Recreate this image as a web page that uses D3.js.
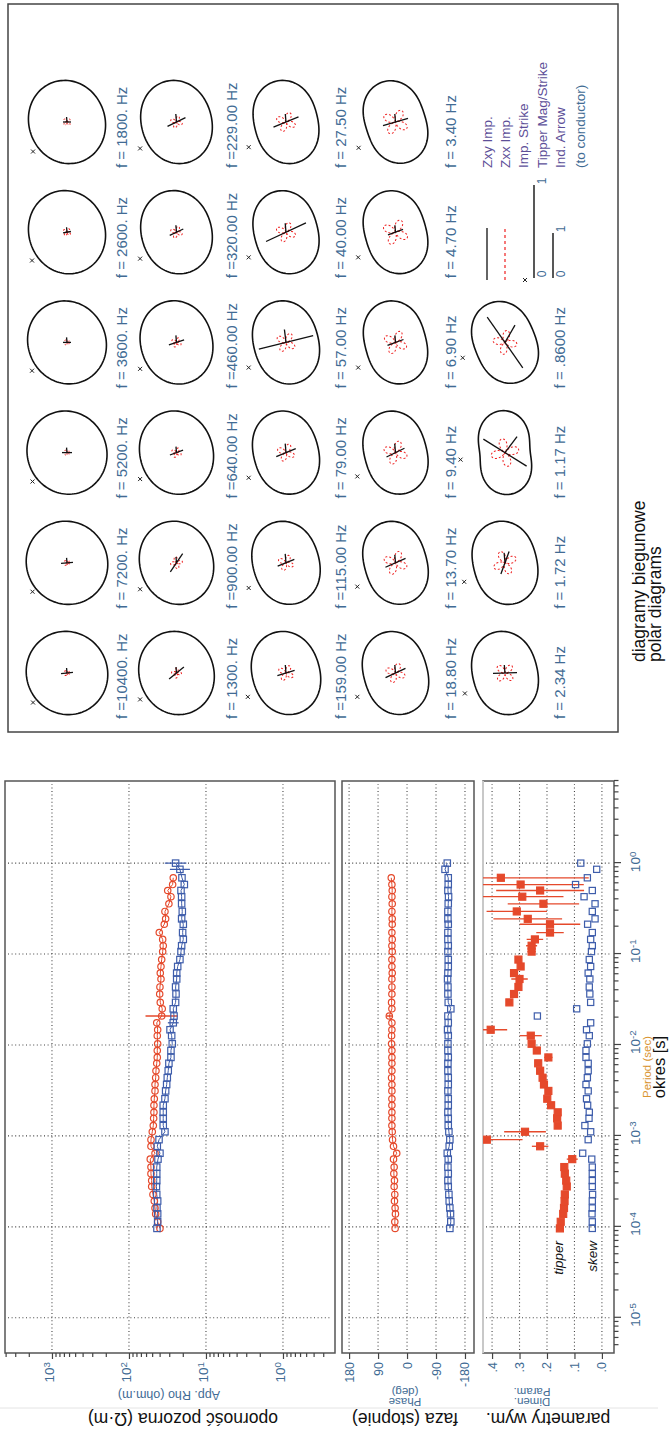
<!DOCTYPE html>
<html>
<head>
<meta charset="utf-8">
<script src="https://cdn.jsdelivr.net/npm/d3@7"></script>
<style>
  body { margin: 0; background: #fff; }
  svg { display: block; }
  text { font-family: "Liberation Sans", Arial, sans-serif; }
</style>
</head>
<body>
<div id="chart"></div>
<script>
// sounding frequencies (Hz), shortest period first
var freqs = [10400, 8800, 7200, 6200, 5200, 4400, 3600, 3100, 2600, 2200,
  1800, 1550, 1300, 1100, 900, 770, 640, 550, 460, 390,
  320, 272, 229, 192, 159, 137, 115, 97, 79, 68,
  57, 48, 40, 34, 27.5, 23, 18.8, 16.2, 13.7, 11.5,
  9.4, 8.1, 6.9, 5.8, 4.7, 4.1, 3.4, 2.8, 2.34, 2.0,
  1.72, 1.45, 1.17, 1.0];

// apparent resistivity (ohm.m)
var rhoXY = [39.6, 42.4, 45.0, 45.9, 46.9, 48.8, 50.7, 50.7, 51.8, 51.8,
  52.9, 45.9, 51.8, 51.8, 49.8, 48.3, 47.8, 47.4, 47.4, 46.9,
  45.9, 45.9, 45.0, 44.6, 43.6, 42.9, 42.9, 42.4, 42.9, 42.4,
  43.6, 37.6, 37.0, 39.2, 39.9, 39.6, 38.4, 39.2, 38.4, 37.6,
  36.5, 35.9, 36.5, 40.4, 34.8, 33.4, 34.1, 30.3, 28.5, 31.4,
  27.1, 26.6, null, null];
var rhoYX = [43.3, 42.4, 42.4, 43.3, 42.4, 43.6, 44.0, 43.6, 43.6, 43.6,
  42.0, 39.6, 42.9, 40.7, 34.1, 35.9, 35.9, 35.9, 35.9, 34.1,
  33.4, 32.4, 31.8, 30.9, 30.3, 28.5, 28.5, 27.4, 27.9, 29.3,
  26.6, 26.0, 26.6, 24.8, 24.5, 24.8, 24.0, 24.0, 23.3, 21.8,
  21.1, 20.7, 19.7, 20.1, 19.7, 20.7, 20.3, 20.7, 20.7, 21.1,
  19.1, 20.5, 21.8, 24.8];
// error half-width in decades
var rhoXYErr = [0, 0, 0, 0, 0, 0, 0, 0, 0, 0,  0, 0, 0, 0, 0, 0, 0, 0, 0, 0,
  0, 0, 0, 0, 0, 0, 0, 0, 0, 0,  0, 0.21, 0, 0, 0, 0, 0, 0, 0, 0,
  0, 0, 0, 0, 0, 0, 0, 0, 0, 0,  0, 0, 0, 0];
var rhoYXErr = [0, 0, 0, 0, 0, 0, 0, 0, 0, 0,  0, 0, 0, 0, 0, 0, 0, 0, 0, 0,
  0, 0, 0, 0, 0, 0, 0, 0, 0, 0,  0.07, 0, 0, 0, 0, 0, 0, 0, 0, 0,
  0, 0, 0, 0, 0, 0, 0, 0, 0, 0,  0, 0, 0.13, 0.14];

// phase (deg)
var phaseXY = [37, 38, 36, 37, 39, 38, 40, 39, 41, 40,
  42, 32, 42, 45, 46, 47, 47, 47, 47, 47,
  47, 47, 48, 47, 47, 47, 47, 48, 48, 47,
  47, 55, 47, 48, 47, 47, 47, 46, 47, 47,
  46, 47, 46, 47, 46, 46, 47, 46, 47, 46,
  47, 49, null, null];
var phaseXYErr = [0, 0, 0, 0, 0, 0, 0, 0, 0, 0,  0, 0, 0, 0, 0, 0, 0, 0, 0, 0,
  0, 0, 0, 0, 0, 0, 0, 0, 0, 0,  0, 9, 0, 0, 0, 0, 0, 0, 0, 0,
  0, 0, 0, 0, 0, 0, 0, 0, 0, 0,  0, 0, 0, 0];
var phaseYX = [-133, -136, -135, -133, -131, -130, -128, -127, -128, -127,
  -128, -125, -131, -133, -130, -128, -128, -127, -128, -128,
  -127, -128, -128, -127, -127, -128, -127, -127, -128, -126,
  -128, -127, -136, -128, -127, -127, -126, -127, -128, -128,
  -127, -128, -127, -127, -128, -127, -127, -128, -129, -127,
  -128, -128, -118, -125];

// dimensionality parameters
var tipper = [0.153, 0.150, 0.141, 0.138, 0.136, 0.135, 0.128, 0.130, 0.135, 0.137,
  0.108, null, 0.225, 0.419, 0.280, 0.161, 0.163, 0.161, 0.185, 0.199,
  0.195, 0.211, 0.216, 0.225, 0.232, 0.195, 0.237, 0.256, 0.259, 0.405,
  null, null, null, 0.337, 0.320, 0.304, 0.300, 0.320, 0.296, 0.304,
  0.256, 0.256, 0.244, 0.189, 0.189, 0.270, 0.310, 0.213, 0.290, 0.225,
  0.296, 0.368, null, null];
var tipperErr = [0, 0, 0, 0, 0, 0, 0, 0, 0, 0,
  0.02, 0, 0.03, 0.13, 0.076, 0, 0, 0, 0, 0,
  0, 0, 0, 0, 0, 0.015, 0, 0.01, 0.04, 0.06,
  0, 0, 0, 0.01, 0.01, 0.01, 0.03, 0.01, 0.01, 0.01,
  0.015, 0.02, 0.03, 0.05, 0.11, 0.125, 0.11, 0.13, 0.15, 0.16,
  0.23, 0.32, 0, 0];
var skew = [0.035, 0.035, 0.036, 0.035, 0.035, 0.034, 0.035, 0.035, 0.035, 0.035,
  0.037, 0.070, null, 0.050, 0.041, 0.062, 0.047, 0.046, 0.052, 0.056,
  0.050, 0.058, 0.053, 0.050, 0.050, 0.058, 0.058, 0.053, 0.046, 0.056,
  0.041, 0.235, 0.092, 0.041, 0.044, 0.046, 0.044, 0.050, 0.041, 0.046,
  0.038, 0.035, 0.041, 0.035, 0.052, 0.025, 0.035, 0.025, 0.065, 0.035,
  0.096, 0.053, 0.019, 0.077];

var periodTicks = [1e-5, 1e-4, 1e-3, 1e-2, 1e-1, 1];
var rhoTicks = [1, 10, 100, 1000];
var phaseTicks = [180, 90, 0, -90, -180];
var dimTicks = [0.4, 0.3, 0.2, 0.1, 0];

// polar diagrams, row by row
var polarLabels = ["f =10400. Hz", "f = 7200. Hz", "f = 5200. Hz", "f = 3600. Hz", "f = 2600. Hz", "f = 1800. Hz",
  "f = 1300. Hz", "f =900.00 Hz", "f =640.00 Hz", "f =460.00 Hz", "f =320.00 Hz", "f =229.00 Hz",
  "f =159.00 Hz", "f =115.00 Hz", "f = 79.00 Hz", "f = 57.00 Hz", "f = 40.00 Hz", "f = 27.50 Hz",
  "f = 18.80 Hz", "f = 13.70 Hz", "f = 9.40 Hz", "f = 6.90 Hz", "f = 4.70 Hz", "f = 3.40 Hz",
  "f = 2.34 Hz", "f = 1.72 Hz", "f = 1.17 Hz", "f = .8600 Hz"];
var polarK = [0.02, 0.02, 0.03, 0.04, 0.05, 0.05, 0.06, 0.07, 0.07, 0.08, 0.09, 0.09,
  0.11, 0.12, 0.13, 0.13, 0.14, 0.14, 0.14, 0.15, 0.15, 0.16, 0.16, 0.17,
  0.13, 0.14, 0.25, 0.16];
var polarAxis = [-30, -30, -25, -25, -20, -20, -18, -18, -16, -16, -16, -16,
  -16, -16, -15, -15, -15, -14, -16, -16, -15, -15, -16, -18,
  -14, -14, -5, -22];
var polarZxx = [3, 3, 3, 3, 4, 4, 5, 6, 5, 5, 6, 6, 8, 8, 9, 10, 10, 10, 10, 12, 12, 12, 13, 13, 10, 12, 14, 12];
var strikeLen = [12, 12, 10, 8, 8, 8, 19, 22, 14, 16, 15, 20, 18, 18, 21, 56, 44, 27, 22, 22, 20, 17, 16, 26, 24, 24, 51, 62];
var strikeAng = [85, 85, 90, 90, 80, 90, 51, 34, 70, 72, 65, 64, 73, 68, 68, 76, 65, 68, 65, 66, 64, 70, 70, 74, 88, 20, 122, 145];
var arrowLen = [5, 5, 5, 5, 5, 5, 6, 6, 6, 7, 7, 8, 8, 9, 9, 13, 9, 8, 8, 8, 9, 7, 7, 8, 8, 10, 20, 20];
var arrowAng = [-5, -5, -5, -5, -5, -5, -5, -5, -5, -5, -5, -5, -5, -5, -5, -7, -5, -5, -5, -5, -5, -5, -5, -5, -5, -5, 37, 30];
var crossAng = [-131, -130, -130, -129, -129, -131, -126, -126, -126, -126, -126, -126,
  -122, -124, -124, -124, -124, -124, -122, -122, -122, -124, -124, -125,
  -117, -115, -99, -110];

var legendLabels = ["Zxy Imp.", "Zxx Imp.", "Imp. Strike", "Tipper Mag/Strike", "Ind. Arrow", "(to conductor)"];

var W = 669, H = 1433;
var red = "#e5492b", blue = "#3e5dab", txtCol = "#416b94", gridCol = "#444";

var svg = d3.select("#chart").append("svg").attr("width", W).attr("height", H);
// the figure is a landscape page turned a quarter turn
var page = svg.append("g").attr("transform", "translate(0," + H + ") rotate(-90)");

var x = d3.scaleLog().domain([4.1e-6, 8]).range([80, 652]);
var yRho = d3.scaleLog().domain([0.211, 4074]).range([335, 5]);
var yPh = d3.scaleLinear().domain([-208, 202]).range([474, 342]);
var yDim = d3.scaleLinear().domain([-0.044, 0.433]).range([614, 483]);

var data = freqs.map(function(f, i) {
  return {T: 1 / f, rxy: rhoXY[i], ryx: rhoYX[i], exy: rhoXYErr[i], eyx: rhoYXErr[i],
    pxy: phaseXY[i], eph: phaseXYErr[i], pyx: phaseYX[i], tip: tipper[i], etip: tipperErr[i], skew: skew[i]};
});

function pow10(sel) {
  sel.text("10").append("tspan").attr("dy", "-0.45em").attr("font-size", "0.72em")
    .text(function(d) { return Math.round(Math.log10(d)); });
}

var panels = [
  {id: "rho", y: yRho, ticks: rhoTicks},
  {id: "ph", y: yPh, ticks: phaseTicks},
  {id: "dim", y: yDim, ticks: dimTicks}
];

panels.forEach(function(p) {
  var r = p.y.range();
  var g = page.append("g");
  page.append("clipPath").attr("id", "clip-" + p.id).append("rect")
    .attr("x", 80).attr("y", r[1]).attr("width", 572).attr("height", r[0] - r[1]);

  g.selectAll("line.vg").data(periodTicks).join("line").attr("class", "vg")
    .attr("x1", function(d) { return x(d); }).attr("x2", function(d) { return x(d); })
    .attr("y1", r[1] + 3).attr("y2", r[0] - 3);
  g.selectAll("line.hg").data(p.ticks).join("line").attr("class", "hg")
    .attr("x1", 83).attr("x2", 649)
    .attr("y1", function(d) { return p.y(d); }).attr("y2", function(d) { return p.y(d); });
  g.selectAll("line").attr("stroke", gridCol).attr("stroke-width", 1.1).attr("stroke-dasharray", "1,2.6");

  g.append("rect").attr("x", 80).attr("y", r[1]).attr("width", 572).attr("height", r[0] - r[1])
    .attr("fill", "none").attr("stroke", "#555").attr("stroke-width", 1.5);
  if (p.id == "dim") {
    g.append("line").attr("x1", 80).attr("x2", 652).attr("y1", r[1]).attr("y2", r[1])
      .attr("stroke", "#c8c8c8").attr("stroke-width", 2);
  }

  var ax = g.append("g").attr("transform", "translate(80,0)")
    .call(d3.axisLeft(p.y).tickValues(p.ticks).tickSize(6).tickFormat(""));
  ax.select(".domain").remove();
  ax.selectAll("line").attr("stroke", "#444");
});

// minor ticks on the resistivity axis
var rhoMinor = yRho.ticks().filter(function(d) { return Math.abs(Math.log10(d) - Math.round(Math.log10(d))) > 1e-6; });
var axm = page.append("g").attr("transform", "translate(80,0)")
  .call(d3.axisLeft(yRho).tickValues(rhoMinor).tickSize(4).tickFormat(""));
axm.select(".domain").remove();

// period axis
var pax = page.append("g").attr("transform", "translate(0,614)")
  .call(d3.axisBottom(x).tickValues(periodTicks).tickSize(7).tickFormat(""));
pax.select(".domain").remove();
var pMinor = x.ticks().filter(function(d) { return Math.abs(Math.log10(d) - Math.round(Math.log10(d))) > 1e-6; });
var paxm = page.append("g").attr("transform", "translate(0,614)")
  .call(d3.axisBottom(x).tickValues(pMinor).tickSize(4.5).tickFormat(""));
paxm.select(".domain").remove();
page.selectAll(".tick line").attr("stroke", "#444").attr("stroke-width", 1.2);

// tick labels
page.append("g").selectAll("text").data(rhoTicks).join("text")
  .attr("x", 71).attr("y", function(d) { return yRho(d) + 2; })
  .attr("text-anchor", "end").attr("font-size", 13.5).attr("fill", txtCol).call(pow10);
page.append("g").selectAll("text").data(phaseTicks).join("text")
  .attr("x", 71).attr("y", function(d) { return yPh(d) + 4.5; })
  .attr("text-anchor", "end").attr("font-size", 12.5).attr("fill", txtCol).text(function(d) { return d; });
page.append("g").selectAll("text").data(dimTicks).join("text")
  .attr("x", 71).attr("y", function(d) { return yDim(d) + 4.5; })
  .attr("text-anchor", "end").attr("font-size", 12.5).attr("fill", txtCol)
  .text(function(d) { return d3.format(".1f")(d).replace("0.", "."); });
page.append("g").selectAll("text").data(periodTicks).join("text")
  .attr("x", function(d) { return x(d) - 9; }).attr("y", 640)
  .attr("font-size", 13.5).attr("fill", txtCol).call(pow10);

// axis titles
function vtext(tx, ty, s, size, col) {
  return page.append("text").attr("transform", "translate(" + tx + "," + ty + ") rotate(-90)")
    .attr("text-anchor", "middle").attr("dy", "0.35em").attr("font-size", size).attr("fill", col).text(s);
}
vtext(38, 169, "App. Rho (ohm.m)", 12.5, txtCol);
vtext(31, 405, "Phase", 11.5, txtCol);
vtext(41, 405, "(deg)", 11.5, txtCol);
vtext(31, 532, "Dimen.", 11.5, txtCol);
vtext(41, 532, "Param.", 11.5, txtCol);
vtext(14, 183, "oporność pozorna (Ω·m)", 17.5, "#111");
vtext(14, 405, "faza (stopnie)", 17.5, "#111");
vtext(14, 548, "parametry wym.", 17.5, "#111");
page.append("line").attr("x1", 25).attr("x2", 25).attr("y1", 0).attr("y2", 658)
  .attr("stroke", "#e4e4e4").attr("stroke-width", 1);
page.append("text").attr("x", 366).attr("y", 647).attr("dy", "0.35em").attr("text-anchor", "middle")
  .attr("font-size", 11.5).attr("fill", "#d99430").text("Period (sec)");
page.append("text").attr("x", 366).attr("y", 659).attr("dy", "0.35em").attr("text-anchor", "middle")
  .attr("font-size", 16.5).attr("fill", "#111").text("okres [s]");

// resistivity curves
var gR = page.append("g").attr("clip-path", "url(#clip-rho)");
function errBars(g, key, ekey, scale, col, logErr) {
  g.selectAll(null).data(data.filter(function(d) { return d[key] != null && d[ekey] > 0; })).join("line")
    .attr("x1", function(d) { return x(d.T); }).attr("x2", function(d) { return x(d.T); })
    .attr("y1", function(d) { return scale(logErr ? d[key] / Math.pow(10, d[ekey]) : d[key] - d[ekey]); })
    .attr("y2", function(d) { return scale(logErr ? d[key] * Math.pow(10, d[ekey]) : d[key] + d[ekey]); })
    .attr("stroke", col).attr("stroke-width", 1.3);
}
function curve(g, key, scale, col) {
  g.append("path").datum(data)
    .attr("d", d3.line().defined(function(d) { return d[key] != null; })
      .x(function(d) { return x(d.T); }).y(function(d) { return scale(d[key]); }))
    .attr("fill", "none").attr("stroke", col).attr("stroke-width", 1);
}
function circles(g, key, scale, col) {
  g.selectAll(null).data(data.filter(function(d) { return d[key] != null; })).join("circle")
    .attr("cx", function(d) { return x(d.T); }).attr("cy", function(d) { return scale(d[key]); })
    .attr("r", 3.2).attr("fill", "none").attr("stroke", col).attr("stroke-width", 1.2);
}
function squares(g, key, scale, col, s, filled) {
  g.selectAll(null).data(data.filter(function(d) { return d[key] != null; })).join("rect")
    .attr("x", function(d) { return x(d.T) - s / 2; }).attr("y", function(d) { return scale(d[key]) - s / 2; })
    .attr("width", s).attr("height", s)
    .attr("fill", filled ? col : "none").attr("stroke", col).attr("stroke-width", 1.2);
}
errBars(gR, "rxy", "exy", yRho, red, true);
errBars(gR, "ryx", "eyx", yRho, blue, true);
curve(gR, "rxy", yRho, red);
curve(gR, "ryx", yRho, blue);
circles(gR, "rxy", yRho, red);
squares(gR, "ryx", yRho, blue, 6.4, false);

// phase curves
var gP = page.append("g").attr("clip-path", "url(#clip-ph)");
errBars(gP, "pxy", "eph", yPh, red, false);
curve(gP, "pxy", yPh, red);
curve(gP, "pyx", yPh, blue);
circles(gP, "pxy", yPh, red);
squares(gP, "pyx", yPh, blue, 6.4, false);

// tipper and skew
var gD = page.append("g").attr("clip-path", "url(#clip-dim)");
errBars(gD, "tip", "etip", yDim, red, false);
squares(gD, "tip", yDim, red, 7, true);
squares(gD, "skew", yDim, blue, 6.2, false);
page.append("text").attr("x", 192).attr("y", 563).attr("text-anchor", "end")
  .attr("font-size", 13.5).attr("font-style", "italic").attr("fill", "#111").text("tipper");
page.append("text").attr("x", 192).attr("y", 597).attr("text-anchor", "end")
  .attr("font-size", 13.5).attr("font-style", "italic").attr("fill", "#111").text("skew");

// polar diagrams
var colX = d3.scalePoint().domain(d3.range(6)).range([760, 1311]);
var rowY = d3.scalePoint().domain(d3.range(5)).range([67, 505]);
var polar = page.append("g");
polar.append("rect").attr("x", 701).attr("y", 8).attr("width", 728).attr("height", 610)
  .attr("fill", "none").attr("stroke", "#444").attr("stroke-width", 1.5);
var radial = d3.lineRadial().curve(d3.curveLinearClosed);
var rad = Math.PI / 180;

function cross(g, cx, cy) {
  g.append("path").attr("d", "M" + (cx - 2) + "," + (cy - 2) + "L" + (cx + 2) + "," + (cy + 2) +
    "M" + (cx - 2) + "," + (cy + 2) + "L" + (cx + 2) + "," + (cy - 2))
    .attr("stroke", "#222").attr("stroke-width", 1);
}

polarLabels.forEach(function(lab, i) {
  var cx = colX(i % 6), cy = rowY(Math.floor(i / 6));
  var g = polar.append("g").attr("transform", "translate(" + cx + "," + cy + ")");
  var k = polarK[i], R = 42 / (1 + k);
  var outline = d3.range(0, 360, 3).map(function(a) { return [a * rad, R * (1 + k * Math.cos(2 * a * rad))]; });
  g.append("path").attr("d", radial(outline)).attr("transform", "rotate(" + (polarAxis[i] + 90) + ")")
    .attr("fill", "none").attr("stroke", "#111").attr("stroke-width", 1.6);
  var clover = d3.range(0, 360, 4).map(function(a) { return [a * rad, polarZxx[i] * Math.abs(Math.sin(2 * a * rad))]; });
  g.append("path").attr("d", radial(clover)).attr("transform", "rotate(" + strikeAng[i] + ")")
    .attr("fill", "none").attr("stroke", "#ee2020").attr("stroke-width", 1).attr("stroke-dasharray", "2,2");
  var L = strikeLen[i] / 2, s = strikeAng[i] * rad;
  g.append("line").attr("x1", -L * Math.cos(s)).attr("y1", -L * Math.sin(s))
    .attr("x2", L * Math.cos(s)).attr("y2", L * Math.sin(s)).attr("stroke", "#111").attr("stroke-width", 1.3);
  var t = arrowAng[i] * rad;
  g.append("line").attr("x1", 0).attr("y1", 0)
    .attr("x2", arrowLen[i] * Math.cos(t)).attr("y2", arrowLen[i] * Math.sin(t)).attr("stroke", "#111").attr("stroke-width", 1.3);
  var c = crossAng[i] * rad;
  cross(g, 45 * Math.cos(c), 45 * Math.sin(c));
  g.append("text").attr("x", -46).attr("y", 60).attr("font-size", 15).attr("fill", txtCol)
    .style("white-space", "pre").text(lab);
});

// legend
var legY = [487, 505, 523, 542, 560, 580];
var leg = polar.append("g");
leg.selectAll("text").data(legendLabels).join("text")
  .attr("x", 1265).attr("y", function(d, i) { return legY[i] + 5; })
  .attr("font-size", 13.5).attr("fill", function(d, i) { return i == 5 ? txtCol : "#5d4f98"; }).text(function(d) { return d; });
leg.append("line").attr("x1", 1153).attr("x2", 1205).attr("y1", 487).attr("y2", 487).attr("stroke", "#111").attr("stroke-width", 1.3);
leg.append("line").attr("x1", 1153).attr("x2", 1205).attr("y1", 505).attr("y2", 505)
  .attr("stroke", "#ee2020").attr("stroke-width", 1.2).attr("stroke-dasharray", "3,3");
cross(leg, 1153, 525);
var tipScale = d3.scaleLinear().domain([0, 1]).range([1155, 1248]);
var indScale = d3.scaleLinear().domain([0, 1]).range([1155, 1200]);
[[tipScale, 534], [indScale, 553]].forEach(function(p) {
  leg.append("line").attr("x1", p[0](0)).attr("x2", p[0](1)).attr("y1", p[1]).attr("y2", p[1])
    .attr("stroke", "#111").attr("stroke-width", 1.4);
  leg.selectAll(null).data([0, 1]).join("text")
    .attr("x", function(d) { return p[0](d) + 4; }).attr("y", p[1] + 12).attr("text-anchor", "middle")
    .attr("font-size", 12).attr("fill", txtCol).text(function(d) { return d; });
});

polar.append("text").attr("x", 771).attr("y", 645).attr("font-size", 17.5).attr("fill", "#111").text("diagramy biegunowe");
polar.append("text").attr("x", 771).attr("y", 661).attr("font-size", 17.5).attr("fill", "#111").text("polar diagrams");
</script>
</body>
</html>
